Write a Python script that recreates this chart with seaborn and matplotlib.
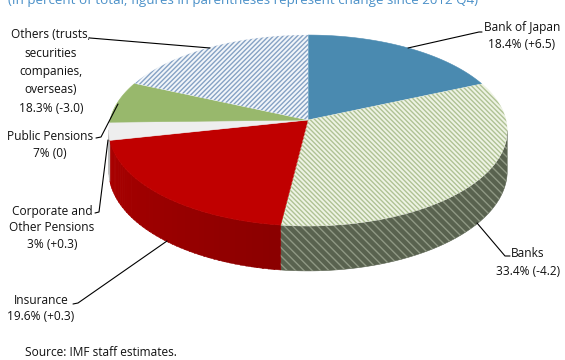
import numpy as np
import matplotlib
matplotlib.use("Agg")
import matplotlib.pyplot as plt
from matplotlib.patches import Polygon
from matplotlib.colors import to_rgb
import seaborn as sns

# ---------------- data ----------------
categories = ["Bank of Japan", "Banks", "Insurance",
              "Corporate and\nOther Pensions", "Public Pensions",
              "Others (trusts,\nsecurities\ncompanies,\noverseas)"]
shares = [18.4, 33.4, 19.6, 3.0, 7.0, 18.3]
changes = ["+6.5", "-4.2", "+0.3", "+0.3", "0", "-3.0"]
subtitle = "(In percent of total; figures in parentheses represent change since 2012 Q4)"
source = "Source: IMF staff estimates."

# ---------------- style ----------------
sns.set_theme(style="white")
plt.rcParams['font.family'] = ['Open Sans', 'DejaVu Sans']
plt.rcParams['hatch.linewidth'] = 1.0

top_colors = ["#4A8AB0", "#EEF3E4", "#C00000", "#EEEEEE", "#98B86C", "#F2F6FA"]
top_hatch = [None, ("\\\\\\\\\\\\\\", "#AFC294"), None, None, None, ("///////", "#86A2C4")]
side_colors = ["#3A6E8E", "#59624F", "#C00000", "#CFCFCF", "#7A9656", "#B8C8DC"]
side_hatch = [None, ("\\\\\\\\", "#8F9884"), None, None, None, None]

W, H = 565, 360
fig = plt.figure(figsize=(5.65, 3.6), dpi=100)
ax = fig.add_axes([0, 0, 1, 1])
ax.set_xlim(0, W)
ax.set_ylim(H, 0)
ax.axis('off')

# perspective projection of the pie disc
CX, CY = 308.0, 120.0
A, B, K = 198.0, 94.3, 0.11
DEPTH = 40.0


def proj(phi_deg, drop=0.0):
    phi = np.radians(phi_deg)
    u, v = np.sin(phi), np.cos(phi)
    w = 1 + K * v
    return CX + A * u / w, CY - B * v / w + drop / w


def arc(a0, a1, drop=0.0):
    n = max(int(abs(a1 - a0) * 2), 2)
    ph = np.linspace(a0, a1, n)
    x, y = proj(ph, drop)
    return np.column_stack([x, y])


def add_poly(pts, face, hatch=None, z=1):
    ax.add_patch(Polygon(pts, closed=True, facecolor=face, edgecolor=face,
                         lw=0.4, zorder=z))
    if hatch is not None:
        pat, hc = hatch
        p = Polygon(pts, closed=True, facecolor='none', edgecolor=hc,
                    lw=0, hatch=pat, zorder=z + 0.1)
        if hasattr(p, "set_hatch_linewidth"):
            p.set_hatch_linewidth(1.0)
        ax.add_patch(p)


total = sum(shares)
bounds = np.concatenate([[0], np.cumsum(shares) / total * 360])
phi_r = np.degrees(np.arccos(-K))
phi_l = 360 - phi_r

# sides (front half)
for i in range(len(shares)):
    lo, hi = max(bounds[i], phi_r), min(bounds[i + 1], phi_l)
    if lo >= hi:
        continue
    if side_hatch[i] is not None:
        pts = np.vstack([arc(lo, hi), arc(hi, lo, DEPTH)])
        add_poly(pts, side_colors[i], side_hatch[i], z=1)
    else:
        base = np.array(to_rgb(side_colors[i]))
        edges = np.linspace(lo, hi, max(int((hi - lo) / 1.5), 2) + 1)
        for a0, a1 in zip(edges[:-1], edges[1:]):
            mid = 0.5 * (a0 + a1)
            f = 0.72 + 0.18 * np.clip((mid - 187) / 77, 0, 1)
            col = tuple(np.clip(base * f, 0, 1))
            pts = np.vstack([arc(a0, a1 + 0.3), arc(a1 + 0.3, a0, DEPTH)])
            add_poly(pts, col, None, z=1)

# top surfaces
apex = np.array([[CX, CY]])
for i in range(len(shares)):
    pts = np.vstack([apex, arc(bounds[i], bounds[i + 1])])
    add_poly(pts, top_colors[i], top_hatch[i], z=3)

# ---------------- labels ----------------
FS = 8.6
label_x = [522, 528, 41, 52, 50, 51]
label_y0 = [28, 253.3, 300, 211, 137, 35]
pitch = [16.8, 18.4, 17, 16.5, 16.6, 18.3]
leaders = [
    [(482, 32), (479, 32), (408, 48)],
    [(510, 256), (505, 256), (477, 223)],
    [(73, 304), (78, 303), (167, 241)],
    [(95, 213), (99, 212), (108, 140)],
    [(96, 138), (101, 137), (118, 104)],
    [(90, 38), (210, 48)],
]
for i, name in enumerate(categories):
    lines = name.split("\n") + [f"{shares[i]:g}% ({changes[i]})"]
    for j, ln in enumerate(lines):
        ax.text(label_x[i], label_y0[i] + j * pitch[i], ln, ha='center',
                va='center', fontsize=FS, color='#111111', zorder=6)
    lx, ly = zip(*leaders[i])
    ax.plot(lx, ly, color='black', lw=0.8, zorder=5)

ax.text(8, 4, subtitle, ha='left', va='baseline', fontsize=9.6,
        color='#4A90C8', zorder=6)
ax.text(25, 352, source, ha='left', va='center', fontsize=FS,
        color='#111111', zorder=6)

fig.savefig("out.png", dpi=100)
